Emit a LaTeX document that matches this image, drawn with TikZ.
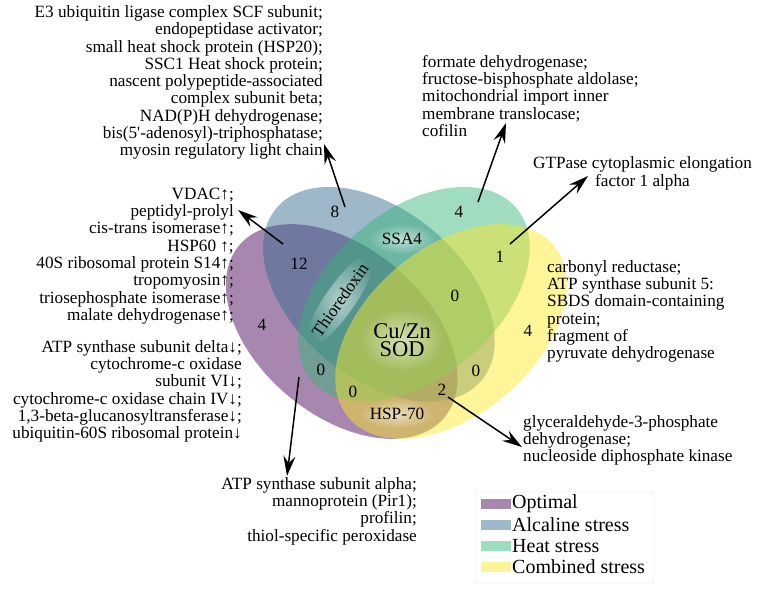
\documentclass[tikz,border=0pt]{standalone}
\usepackage{fontspec}
\setmainfont{Liberation Serif}
\newfontfamily\venntext{Liberation Serif}
\usetikzlibrary{arrows.meta,fadings}

\definecolor{optimal}{HTML}{440154}
\definecolor{alcaline}{HTML}{31688E}
\definecolor{heat}{HTML}{35B779}
\definecolor{combined}{HTML}{FDE725}

\tikzfading[name=softglow, inner color=transparent!45, outer color=transparent!100]

\tikzset{
  setfill/.style={fill=#1, fill opacity=0.47},
  pointer/.style={-{Stealth[length=20pt,width=12pt,inset=7pt]}, line width=1.5pt},
  listtext/.style={font=\venntext\fontsize{17.2}{17.3}\selectfont, inner sep=0pt},
  count/.style={font=\venntext\fontsize{17.2}{17.3}\selectfont, inner sep=1pt},
  glowspot/.style={fill=white, path fading=softglow},
  keytext/.style={font=\venntext\fontsize{20}{21}\selectfont, inner sep=0pt, anchor=west},
}

\begin{document}
\begin{tikzpicture}[x=1pt,y=-1pt]
  \useasboundingbox (0,0) rectangle (759,589);

  %%%%% sets %%%%%
  \fill[setfill=optimal, rotate around={140:(341.7,331.5)}] (341.7,331.5) ellipse [x radius=133.9, y radius=83.7];
  \fill[setfill=alcaline, rotate around={140:(378.9,294.3)}] (378.9,294.3) ellipse [x radius=133.9, y radius=83.7];
  \fill[setfill=heat, rotate around={40:(413.9,294.3)}] (413.9,294.3) ellipse [x radius=133.9, y radius=83.7];
  \fill[setfill=combined, rotate around={40:(451.1,331.5)}] (451.1,331.5) ellipse [x radius=133.9, y radius=83.7];

  %%%%% glow behind the shared proteins %%%%%
  \fill[glowspot] (402,239) ellipse [x radius=34, y radius=15];
  \fill[glowspot, rotate around={55:(340,300)}] (340,300) ellipse [x radius=56, y radius=15];
  \fill[glowspot] (402,340) ellipse [x radius=42, y radius=32];
  \fill[glowspot] (397,414) ellipse [x radius=38, y radius=15];

  %%%%% counts %%%%%
  \node[count] (n8) at (335,212) {8};
  \node[count] (n12) at (299,264) {12};
  \node[count] (n4opt) at (262,325) {4};
  \node[count] (n4heat) at (459,212) {4};
  \node[count] (n1) at (500,257) {1};
  \node[count] (n0mid) at (455,296) {0};
  \node[count] (n4comb) at (528,331) {4};
  \node[count] (n0left) at (321,370) {0};
  \node[count] (n0low) at (353,392) {0};
  \node[count] (n2) at (442,390) {2};
  \node[count] (n0right) at (476,371) {0};

  %%%%% named proteins %%%%%
  \node[count] (ssa) at (402,239) {SSA4};
  \node[count, rotate=55] (thio) at (340,300) {Thioredoxin};
  \node[count, align=center, font=\venntext\fontsize{22.5}{18}\selectfont] (sod) at (402,340) {Cu/Zn\\SOD};
  \node[count] (hsp) at (397,414) {HSP-70};

  %%%%% lists %%%%%
  \node[listtext, anchor=east, align=right] (alcList) at (323,82.5) {E3 ubiquitin ligase complex SCF subunit;\\endopeptidase activator;\\small heat shock protein (HSP20);\\SSC1 Heat shock protein;\\nascent polypeptide-associated\\complex subunit beta;\\NAD(P)H dehydrogenase;\\bis(5'-adenosyl)-triphosphatase;\\myosin regulatory light chain};
  \node[listtext, anchor=east, align=right] (upList) at (234,256) {VDAC↑;\\peptidyl-prolyl\\cis-trans isomerase↑;\\HSP60 ↑;\\40S ribosomal protein S14↑;\\tropomyosin↑;\\triosephosphate isomerase↑;\\malate dehydrogenase↑;};
  \node[listtext, anchor=east, align=right] (downList) at (242,391.5) {ATP synthase subunit delta↓;\\cytochrome-c oxidase\\subunit VI↓;\\cytochrome-c oxidase chain IV↓;\\1,3-beta-glucanosyltransferase↓;\\ubiquitin-60S ribosomal protein↓};
  \node[listtext, anchor=west, align=left] (heatList) at (422,96) {formate dehydrogenase;\\fructose-bisphosphate aldolase;\\mitochondrial import inner\\membrane translocase;\\cofilin};
  \node[listtext, align=center] (gtpList) at (642.5,173.5) {GTPase cytoplasmic elongation\\factor 1 alpha};
  \node[listtext, anchor=west, align=left] (combList) at (547,311.5) {carbonyl reductase;\\ATP synthase subunit 5:\\SBDS domain-containing\\protein;\\fragment of\\pyruvate dehydrogenase};
  \node[listtext, anchor=west, align=left] (gapList) at (523,440.5) {glyceraldehyde-3-phosphate\\dehydrogenase;\\nucleoside diphosphate kinase};
  \node[listtext, anchor=east, align=right] (optList) at (417,511) {ATP synthase subunit alpha;\\mannoprotein (Pir1);\\profilin;\\thiol-specific peroxidase};

  %%%%% pointers %%%%%
  \coordinate (t8) at (345,207);   \coordinate (h8) at (324,144);
  \coordinate (t12) at (283,244);  \coordinate (h12) at (238,210);
  \coordinate (t4) at (478,202);   \coordinate (h4) at (506,123);
  \coordinate (t1) at (510,244);   \coordinate (h1) at (588,176);
  \coordinate (t2) at (448,397);   \coordinate (h2) at (522,447);
  \coordinate (t0) at (299,377);   \coordinate (h0) at (287,476);
  \draw[pointer] (t8) -- (h8);
  \draw[pointer] (t12) -- (h12);
  \draw[pointer] (t4) -- (h4);
  \draw[pointer] (t1) -- (h1);
  \draw[pointer] (t2) -- (h2);
  \draw[pointer] (t0) -- (h0);

  %%%%% legend %%%%%
  \draw[black!12, fill=white, rounded corners=3pt] (475,492) rectangle (654,583);
  \foreach \i/\c/\t in {0/optimal/Optimal, 1/alcaline/Alcaline stress, 2/heat/Heat stress, 3/combined/Combined stress} {
    \fill[setfill=\c] (481,499+21*\i) rectangle (511,509+21*\i);
    \node[keytext] (key\i) at (512,504+21*\i) {\t};
  }
\end{tikzpicture}
\end{document}
